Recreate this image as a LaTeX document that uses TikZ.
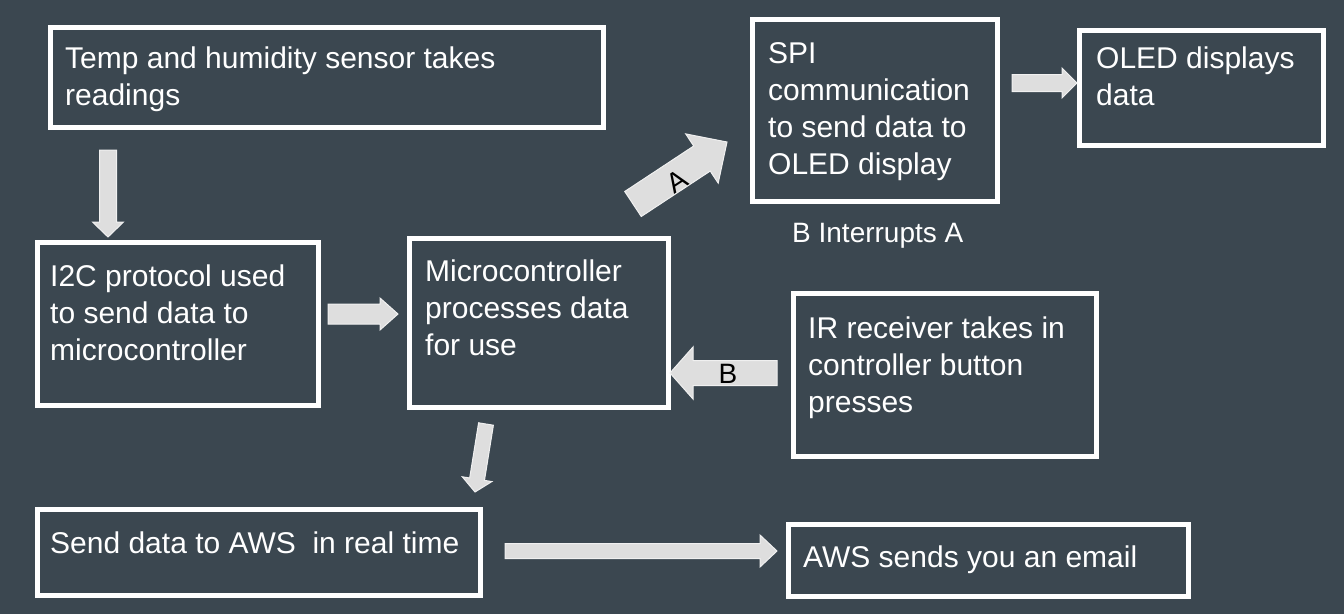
\documentclass[tikz,border=0pt]{standalone}
\usepackage{fontspec}
\setmainfont{Liberation Sans}
\usetikzlibrary{calc}
\definecolor{bg}{HTML}{3B4750}
\definecolor{arrfill}{HTML}{DEDEDE}
\definecolor{arrline}{HTML}{F0F0F0}
\newcommand\txtlines[1]{\vtop{\baselineskip=37pt\lineskiplimit=-100pt\halign{##\hfil\cr #1\crcr}}}
\newcommand\blockarr[5]{%
  \path ($(#2)!#5!(#1)$) coordinate (hb);
  \draw[arr] ($(#1)!#3!90:(#2)$) -- ($(hb)!#3!90:(#2)$) -- ($(hb)!#4!90:(#2)$) -- (#2)
    -- ($(hb)!#4!-90:(#2)$) -- ($(hb)!#3!-90:(#2)$) -- ($(#1)!#3!-90:(#2)$) -- cycle;
}
\tikzset{
  box/.style={draw=white, line width=5pt, rectangle, inner sep=0pt, outer sep=0pt},
  txt/.style={text=white, inner sep=0pt, anchor=base west, font=\fontsize{30}{37}\selectfont},
  arr/.style={fill=arrfill, draw=arrline, line width=1pt, line join=miter},
  albl/.style={text=black, inner sep=0pt, font=\fontsize{28}{32}\selectfont}
}
\begin{document}
\begin{tikzpicture}[x=1pt,y=-1pt]
\path[use as bounding box, fill=bg] (0,0) rectangle (1344,614);
% boxes
\node[box, minimum width=553pt, minimum height=100pt] (temp) at (326.5,77) {};
\node[box, minimum width=281pt, minimum height=163pt] (i2c) at (177.5,323.5) {};
\node[box, minimum width=259pt, minimum height=169pt] (mcu) at (538.5,322.5) {};
\node[box, minimum width=245pt, minimum height=182pt] (spi) at (874.5,110) {};
\node[box, minimum width=244pt, minimum height=115pt] (oled) at (1201,87.5) {};
\node[box, minimum width=303pt, minimum height=163pt] (ir) at (944.5,374.5) {};
\node[box, minimum width=443pt, minimum height=86pt] (aws) at (258.5,552) {};
\node[box, minimum width=400pt, minimum height=72pt] (email) at (988,560) {};
% texts
\node[txt] (ttemp) at (65,68) {\txtlines{Temp and humidity sensor takes\cr readings}};
\node[txt] (ti2c) at (50,286) {\txtlines{I2C protocol used\cr to send data to\cr microcontroller}};
\node[txt] (tmcu) at (425,281) {\txtlines{Microcontroller\cr processes data\cr for use}};
\node[txt] (tspi) at (768,63) {\txtlines{SPI\cr communication\cr to send data to\cr OLED display}};
\node[txt] (toled) at (1096,68) {\txtlines{OLED displays\cr data}};
\node[txt] (tir) at (808,338) {\txtlines{IR receiver takes in\cr controller button\cr presses}};
\node[txt] (taws) at (50,553) {Send data to AWS\ \ in real time};
\node[txt] (temail) at (803,567) {AWS sends you an email};
\node[txt, font=\fontsize{28}{32}\selectfont] (tint) at (792,242) {B Interrupts A};
% arrow endpoints
\coordinate (a1s) at (108,150); \coordinate (a1e) at (108,237);
\coordinate (a2s) at (328,314); \coordinate (a2e) at (398,314);
\coordinate (a3s) at (633,204); \coordinate (a3e) at (727,142);
\coordinate (a4s) at (777,373); \coordinate (a4e) at (670,373);
\coordinate (a5s) at (486,424); \coordinate (a5e) at (475,492);
\coordinate (a6s) at (1012,83); \coordinate (a6e) at (1077,83);
\coordinate (a7s) at (505,551); \coordinate (a7e) at (777,551);
\blockarr{a1s}{a1e}{8.5pt}{15.5pt}{15pt}
\blockarr{a2s}{a2e}{10pt}{16pt}{18pt}
\blockarr{a3s}{a3e}{15pt}{29.5pt}{30pt}
\blockarr{a4s}{a4e}{12.5pt}{26pt}{23pt}
\blockarr{a5s}{a5e}{7.5pt}{15pt}{13pt}
\blockarr{a6s}{a6e}{8.5pt}{15pt}{15pt}
\blockarr{a7s}{a7e}{7.5pt}{16pt}{17pt}
\node[albl, rotate=33] (la) at (677,181) {A};
\node[albl] (lb) at (728,374) {B};
\end{tikzpicture}
\end{document}
